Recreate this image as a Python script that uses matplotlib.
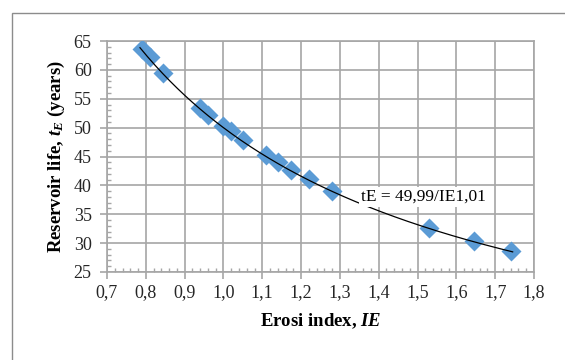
import matplotlib
matplotlib.use("Agg")
import matplotlib.pyplot as plt
import numpy as np
from matplotlib.patches import Rectangle
from matplotlib.ticker import MultipleLocator, FuncFormatter

# data
erosi_index = [0.79, 0.81, 0.845, 0.94, 0.96, 1.00, 1.02, 1.05, 1.11, 1.14,
               1.175, 1.22, 1.28, 1.53, 1.645, 1.74]
reservoir_life = [63.7, 62.2, 59.5, 53.4, 52.1, 50.2, 49.4, 47.8, 45.3, 44.0,
                  42.6, 41.1, 39.1, 32.7, 30.3, 28.7]

# power trendline shown on the chart
fit_a = 49.99
fit_b = 1.01
fit_label = "tE = 49,99/IE1,01"

plt.rcParams['font.family'] = ['Liberation Serif', 'DejaVu Serif']
plt.rcParams['mathtext.fontset'] = 'custom'
plt.rcParams['mathtext.rm'] = 'Liberation Serif'
plt.rcParams['mathtext.it'] = 'Liberation Serif:italic'
plt.rcParams['mathtext.bf'] = 'Liberation Serif:bold'
plt.rcParams['mathtext.bfit'] = 'Liberation Serif:italic:bold'

grey = '#a6a6a6'

fig = plt.figure(figsize=(5.65, 3.6), dpi=100)
fig.patches.append(Rectangle((12 / 565, -0.1), 1.2, (360 - 12.5) / 360 + 0.1,
                             transform=fig.transFigure, fill=False,
                             edgecolor='#8c8c8c', linewidth=1.0))
ax = fig.add_axes([107 / 565, 1 - 272 / 360, (534 - 107) / 565, (272 - 41) / 360])

xs = np.linspace(0.785, 1.745, 200)
line, = ax.plot(xs, fit_a / xs ** fit_b, color='black', lw=0.9, zorder=4)
ax.plot(erosi_index, reservoir_life, 'D', color='#5b9bd5', ms=10.5,
        mec='none', zorder=3)

ax.text(1.354, 38.0, fit_label, fontsize=12.5, va='center', ha='left', zorder=5,
        bbox=dict(facecolor='white', edgecolor='none', pad=1.5))

ax.set_xlim(0.7, 1.8)
ax.set_ylim(25, 65)
ax.xaxis.set_major_locator(MultipleLocator(0.1))
ax.xaxis.set_minor_locator(MultipleLocator(0.02))
ax.yaxis.set_major_locator(MultipleLocator(5))
ax.yaxis.set_minor_locator(MultipleLocator(1))
ax.xaxis.set_major_formatter(FuncFormatter(lambda v, p: f"{v:.1f}".replace('.', ',')))

ax.grid(True, which='major', color=grey, lw=1.2)
ax.set_axisbelow(True)
for s in ax.spines.values():
    s.set_color(grey)
    s.set_linewidth(1.2)
ax.tick_params(which='major', direction='out', length=5, color=grey, width=1.2,
               labelsize=13, labelcolor='#262626')
ax.tick_params(axis='y', which='major', pad=6)
ax.tick_params(which='minor', direction='in', length=3, color=grey, width=1)

ax.set_xlabel(r"Erosi index, $\mathbfit{IE}$", fontsize=13.5, fontweight='bold',
              labelpad=8)
ax.set_ylabel(r"Reservoir life, $\mathbfit{t}_{\mathbfit{E}}$ (years)", fontsize=13.5,
              fontweight='bold', labelpad=5)

fig.savefig("out.png", dpi=100)
